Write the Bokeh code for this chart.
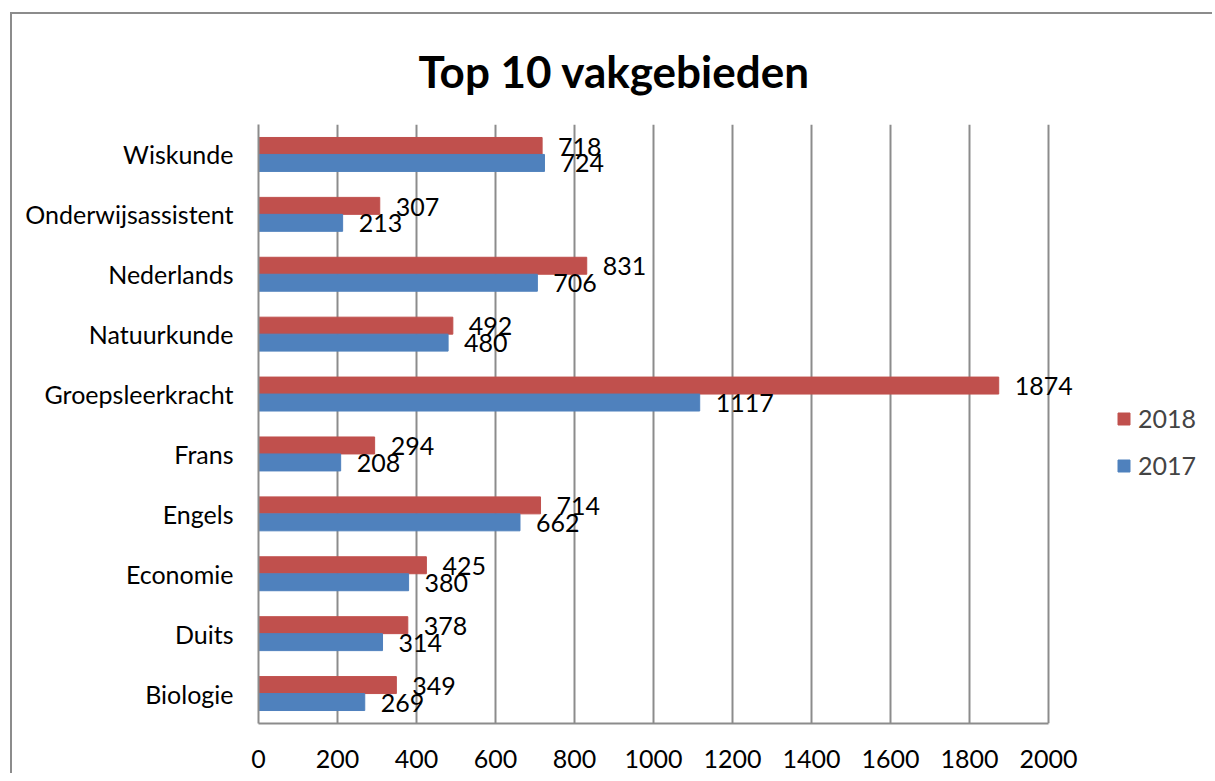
from bokeh.plotting import figure
from bokeh.models import (ColumnDataSource, FactorRange, Range1d, Legend, LegendItem,
                          FixedTicker, LabelSet)
from bokeh.transform import dodge
from bokeh.core.properties import value
from bokeh.embed import file_html
from bokeh.resources import INLINE

categories = ["Biologie", "Duits", "Economie", "Engels", "Frans", "Groepsleerkracht",
              "Natuurkunde", "Nederlands", "Onderwijsassistent", "Wiskunde"]
values_2018 = [349, 378, 425, 714, 294, 1874, 492, 831, 307, 718]
values_2017 = [269, 314, 380, 662, 208, 1117, 480, 706, 213, 724]
x_ticks = [0, 200, 400, 600, 800, 1000, 1200, 1400, 1600, 1800, 2000]

RED = "#C0504D"
BLUE = "#4F81BD"
GRID = "#8c8c8c"
FONT = "Lato"
FS = "25px"

# axis spans 0..2000 over 790 px; frame is wider so that labels past 2000 stay visible
PX_PER_UNIT = 790 / 2000
FRAME_W = 950

src = ColumnDataSource(dict(
    cat=categories,
    v18=values_2018,
    v17=values_2017,
    l18=[str(v) for v in values_2018],
    l17=[str(v) for v in values_2017],
))

p = figure(frame_width=FRAME_W, frame_height=599, output_backend="svg", toolbar_location=None,
           y_range=FactorRange(*categories, range_padding=0),
           x_range=Range1d(0, FRAME_W / PX_PER_UNIT),
           min_border_left=246, min_border_right=4, min_border_top=110, min_border_bottom=50)
p.styles = {"margin-left": "10px", "margin-top": "12px",
            "border-left": "2px solid #8c8c8c", "border-top": "2px solid #8c8c8c"}

p.title.text = "Top 10 vakgebieden"
p.title.align = "left"
p.title.offset = 160
p.title.text_font = FONT
p.title.text_font_size = "44px"
p.title.text_font_style = "bold"
p.title.text_color = "black"
p.title.standoff = 56

r18 = p.hbar(y=dodge("cat", 0.1417, range=p.y_range), right="v18", left=0, height=0.2833,
             color=RED, source=src)
r17 = p.hbar(y=dodge("cat", -0.1417, range=p.y_range), right="v17", left=0, height=0.2833,
             color=BLUE, source=src)

lab18 = LabelSet(x="v18", y=dodge("cat", 0.13, range=p.y_range), text="l18", x_offset=16,
                 text_baseline="middle", text_font=value(FONT), text_font_size=value(FS),
                 text_color="black", source=src)
lab17 = LabelSet(x="v17", y=dodge("cat", -0.15, range=p.y_range), text="l17", x_offset=16,
                 text_baseline="middle", text_font=value(FONT), text_font_size=value(FS),
                 text_color="black", source=src)
p.add_layout(lab18)
p.add_layout(lab17)

p.outline_line_color = None
p.ygrid.grid_line_color = None
p.xgrid.grid_line_color = GRID
p.xgrid.grid_line_width = 2
p.xgrid.ticker = FixedTicker(ticks=x_ticks)

p.xaxis.ticker = FixedTicker(ticks=x_ticks)
p.xaxis.bounds = (0, 2000)
p.xaxis.axis_line_color = GRID
p.xaxis.axis_line_width = 2
p.xaxis.major_tick_line_color = None
p.xaxis.minor_tick_line_color = None
p.xaxis.major_tick_out = 0
p.xaxis.major_label_standoff = 26
p.xaxis.major_label_text_font = FONT
p.xaxis.major_label_text_font_size = FS
p.xaxis.major_label_text_color = "black"

p.yaxis.axis_line_color = GRID
p.yaxis.axis_line_width = 2
p.yaxis.major_tick_line_color = None
p.yaxis.minor_tick_line_color = None
p.yaxis.major_tick_out = 0
p.yaxis.major_label_standoff = 25
p.yaxis.major_label_text_font = FONT
p.yaxis.major_label_text_font_size = FS
p.yaxis.major_label_text_color = "black"

legend = Legend(items=[LegendItem(label="2018", renderers=[r18]),
                       LegendItem(label="2017", renderers=[r17])],
                location=(858, 243), orientation="vertical",
                glyph_width=15, glyph_height=15, label_height=26, label_text_font=FONT,
                label_text_font_size=FS, label_standoff=7, spacing=17,
                padding=0, margin=0, border_line_color=None, background_fill_alpha=0)
p.add_layout(legend, "center")

open("out.html", "w").write(file_html(p, INLINE))
